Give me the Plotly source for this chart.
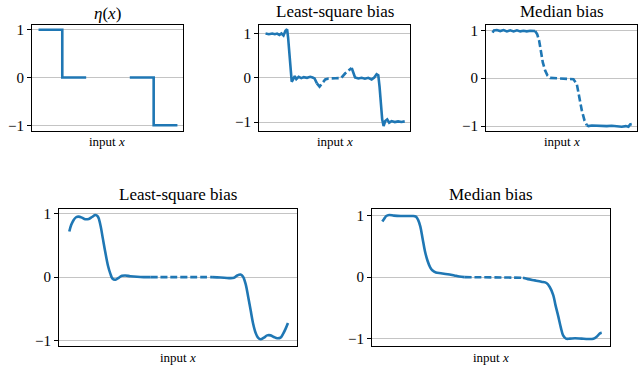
import numpy as np
import plotly.graph_objects as go

# ---- data (input x scaled to 0..1) ----
ETA_X = [0.0, 0.171, 0.171, 0.343, None, 0.657, 0.829, 0.829, 1.0]
ETA_Y = [1.0, 1.0, 0.0, 0.0, None, 0.0, 0.0, -1.0, -1.0]

LS_TOP_X = [0.0, 0.024, 0.048, 0.067, 0.083, 0.1, 0.114, 0.129, 0.143, 0.155, 0.162,
            0.171, 0.181, 0.188, 0.198, 0.21, 0.221, 0.238, 0.257, 0.274, 0.298, 0.321,
            0.338, 0.352, 0.369, 0.388, 0.429, 0.452, 0.5, 0.543, 0.571, 0.602, 0.619,
            0.643, 0.667, 0.69, 0.714, 0.738, 0.762, 0.781, 0.798, 0.81, 0.819, 0.829,
            0.838, 0.848, 0.86, 0.874, 0.888, 0.905, 0.929, 0.952, 0.976, 1.0]
LS_TOP_Y = [1.0, 0.985, 1.0, 0.985, 1.0, 0.97, 1.0, 0.955, 1.06, 1.096, 0.91,
            0.54, 0.17, -0.089, -0.037, 0.037, -0.03, 0.022, -0.007, 0.015, 0.0, 0.022,
            0.007, -0.015, -0.126, -0.2, -0.037, -0.015, -0.01, -0.007, 0.096, 0.17, 0.222,
            0.007, -0.015, 0.0, -0.022, 0.0, -0.037, 0.007, 0.081, 0.059, -0.2, -0.644,
            -0.94, -1.089, -0.978, -0.94, -1.015, -0.978, -1.0, -0.985, -1.0, -0.985]

MED_TOP_X = [0.0, 0.01, 0.031, 0.055, 0.079, 0.103, 0.127, 0.151, 0.175, 0.199, 0.222,
             0.246, 0.27, 0.294, 0.306, 0.321, 0.335, 0.349, 0.361, 0.378, 0.395, 0.414,
             0.45, 0.498, 0.545, 0.581, 0.605, 0.622, 0.641, 0.66, 0.677, 0.689, 0.713,
             0.749, 0.785, 0.821, 0.856, 0.892, 0.928, 0.957, 0.976, 0.988, 1.0]
MED_TOP_Y = [0.952, 1.0, 1.007, 0.986, 1.007, 0.979, 1.0, 0.979, 1.0, 0.979, 0.993,
             0.979, 0.993, 0.986, 0.986, 0.917, 0.779, 0.538, 0.331, 0.159, 0.055, 0.007,
             0.0, 0.0, -0.007, -0.021, -0.117, -0.393, -0.669, -0.876, -0.979, -1.0, -0.986,
             -0.993, -0.986, -1.0, -0.993, -1.007, -1.014, -1.0, -1.014, -0.966, -0.959]

LS_BOT_X = [0.0, 0.009, 0.02, 0.031, 0.043, 0.058, 0.073, 0.089, 0.104, 0.119, 0.131,
            0.142, 0.153, 0.165, 0.177, 0.188, 0.198, 0.211, 0.226, 0.241, 0.256, 0.279,
            0.31, 0.34, 0.371, 0.45, 0.55, 0.653, 0.692, 0.73, 0.753, 0.768, 0.783,
            0.794, 0.806, 0.818, 0.829, 0.84, 0.852, 0.863, 0.875, 0.89, 0.905, 0.921,
            0.936, 0.951, 0.966, 0.977, 0.989, 1.0]
LS_BOT_Y = [0.72, 0.827, 0.904, 0.946, 0.956, 0.94, 0.915, 0.92, 0.95, 0.982, 0.956,
            0.827, 0.62, 0.388, 0.18, 0.052, -0.026, -0.041, -0.01, 0.021, 0.026, 0.015,
            0.005, 0.0, 0.0, 0.0, 0.0, 0.0, -0.005, -0.015, -0.01, 0.026, 0.041,
            0.01, -0.103, -0.31, -0.517, -0.724, -0.879, -0.956, -0.982, -0.956, -0.92, -0.92,
            -0.946, -0.966, -0.956, -0.9, -0.817, -0.724]

MED_BOT_X = [0.0, 0.008, 0.018, 0.031, 0.053, 0.084, 0.115, 0.137, 0.153, 0.163, 0.173,
             0.183, 0.194, 0.206, 0.218, 0.229, 0.244, 0.267, 0.298, 0.328, 0.351, 0.374,
             0.45, 0.55, 0.641, 0.664, 0.695, 0.725, 0.748, 0.763, 0.779, 0.789, 0.802,
             0.814, 0.824, 0.837, 0.855, 0.878, 0.908, 0.939, 0.962, 0.977, 0.992, 1.0]
MED_BOT_Y = [0.907, 0.949, 0.997, 1.013, 1.003, 0.997, 0.997, 0.997, 0.987, 0.933, 0.827,
             0.64, 0.427, 0.267, 0.16, 0.107, 0.075, 0.064, 0.048, 0.027, 0.011, 0.0,
             -0.002, -0.005, -0.011, -0.032, -0.053, -0.075, -0.096, -0.16, -0.293, -0.453, -0.64,
             -0.827, -0.949, -1.003, -1.003, -0.997, -1.003, -1.008, -1.003, -0.971, -0.917, -0.907]

BLUE = "#1f77b4"
FONT = "Liberation Serif"

# title, x, y, dashed interval, y range, x domain, y domain, smooth
PANELS = [
    ("<i>η</i>(<i>x</i>)", ETA_X, ETA_Y, None, [-1.118, 1.097], [0.05, 0.2859], [0.6467, 0.9389], False),
    ("Least-square bias", LS_TOP_X, LS_TOP_Y, (0.369, 0.619), [-1.2, 1.19], [0.4047, 0.6411], [0.6467, 0.9389], False),
    ("Median bias", MED_TOP_X, MED_TOP_Y, (0.306, 0.677), [-1.10, 1.11], [0.7594, 0.9958], [0.6467, 0.9389], False),
    ("Least-square bias", LS_BOT_X, LS_BOT_Y, (0.371, 0.653), [-1.085, 1.075], [0.0922, 0.4636], [0.053, 0.4307], True),
    ("Median bias", MED_BOT_X, MED_BOT_Y, (0.374, 0.641), [-1.12, 1.11], [0.5813, 0.9539], [0.053, 0.4307], True),
]

fig = go.Figure()
annotations = []

for i, (title, xs, ys, gap, yrange, xdom, ydom, smooth) in enumerate(PANELS, start=1):
    xa, ya = f"x{i}", f"y{i}"
    shape = "spline" if smooth else "linear"
    line = dict(color=BLUE, width=2.6, shape=shape)
    if gap is None:
        fig.add_trace(go.Scatter(x=xs, y=ys, mode="lines", line=line, xaxis=xa, yaxis=ya,
                                 showlegend=False, connectgaps=False))
    else:
        x = np.array(xs)
        y = np.array(ys)
        lo, hi = gap
        left = x <= lo
        mid = (x >= lo) & (x <= hi)
        right = x >= hi
        sx = list(x[left]) + [None] + list(x[right])
        sy = list(y[left]) + [None] + list(y[right])
        fig.add_trace(go.Scatter(x=sx, y=sy, mode="lines", line=line, xaxis=xa, yaxis=ya,
                                 showlegend=False, connectgaps=False))
        fig.add_trace(go.Scatter(x=x[mid], y=y[mid], mode="lines",
                                 line=dict(color=BLUE, width=2.6, shape=shape, dash="7px,3px"),
                                 xaxis=xa, yaxis=ya, showlegend=False))

    axis_common = dict(showline=True, linecolor="black", linewidth=1.2, mirror=True,
                       zeroline=False)
    fig.layout[f"xaxis{i}"] = dict(domain=xdom, anchor=ya, range=[-0.047, 1.04],
                                   showgrid=False, showticklabels=False, ticks="",
                                   **axis_common)
    fig.layout[f"yaxis{i}"] = dict(domain=ydom, anchor=xa, range=yrange,
                                   tickvals=[-1, 0, 1], ticktext=["\u22121", "0", "1"],
                                   ticks="outside", ticklen=4, tickcolor="black", tickwidth=1,
                                   showgrid=True, gridcolor="#c4c4c4", gridwidth=1.2,
                                   tickfont=dict(family=FONT, size=15, color="black"),
                                   **axis_common)

    xc = (xdom[0] + xdom[1]) / 2
    top = ydom[1] > 0.5
    title_y = (0.9706 if i == 1 else 0.9755) if top else 0.4715
    label_y = 0.6168 if top else 0.0204
    annotations.append(dict(text=title, x=xc, y=title_y, xref="paper", yref="paper",
                            xanchor="center", yanchor="middle", showarrow=False,
                            font=dict(family=FONT, size=17, color="black")))
    annotations.append(dict(text="input <i>x</i>", x=xc, y=label_y, xref="paper", yref="paper",
                            xanchor="center", yanchor="middle", showarrow=False,
                            font=dict(family=FONT, size=13, color="black")))

fig.update_layout(width=640, height=368, margin=dict(l=0, r=0, t=0, b=0),
                  paper_bgcolor="white", plot_bgcolor="white",
                  annotations=annotations)

fig.write_html("out.html", config={"displayModeBar": False},
               post_script="document.body.style.margin='0';")
